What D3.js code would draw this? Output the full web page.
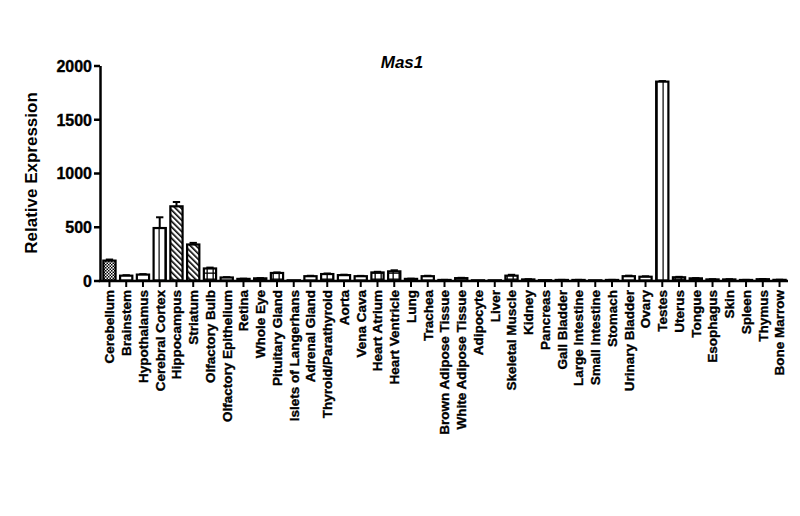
<!DOCTYPE html>
<html>
<head>
<meta charset="utf-8">
<script src="https://cdn.jsdelivr.net/npm/d3@7"></script>
<style>
  body { margin: 0; background: #fff; }
  text { font-family: "Liberation Sans", Arial, sans-serif; font-weight: bold; fill: #000; }
  .tick text { stroke: #000; stroke-width: 0.35px; }
</style>
</head>
<body>
<div id="chart-container"></div>
<script>
const tissues = [
    "Cerebellum", "Brainstem", "Hypothalamus", "Cerebral Cortex", "Hippocampus",
    "Striatum", "Olfactory Bulb", "Olfactory Epithelium", "Retina", "Whole Eye",
    "Pituitary Gland", "Islets of Langerhans", "Adrenal Gland", "Thyroid/Parathyroid",
    "Aorta", "Vena Cava", "Heart Atrium", "Heart Ventricle", "Lung", "Trachea",
    "Brown Adipose Tissue", "White Adipose Tissue", "Adipocyte", "Liver",
    "Skeletal Muscle", "Kidney", "Pancreas", "Gall Bladder", "Large Intestine",
    "Small Intestine", "Stomach", "Urinary Bladder", "Ovary", "Testes", "Uterus",
    "Tongue", "Esophagus", "Skin", "Spleen", "Thymus", "Bone Marrow"
];
const expression = [
    185, 45, 55, 488, 690, 335, 112, 28, 15, 20,
    70, 2, 40, 60, 50, 40, 75, 85, 15, 40,
    5, 22, 2, 2, 45, 10, 3, 5, 5, 2,
    5, 40, 35, 1850, 30, 20, 10, 10, 5, 12, 6
];
const sem = [
    10, 4, 4, 100, 40, 15, 8, 3, 2, 2,
    5, 0, 4, 5, 4, 3, 6, 10, 2, 4,
    1, 3, 0, 0, 8, 2, 0, 1, 1, 0,
    1, 5, 4, 5, 4, 2, 2, 2, 1, 2, 1
];
const fills = [
    "check", "none", "none", "vlines", "diag", "diag", "grid", "none", "none", "none",
    "grid", "none", "none", "grid", "none", "none", "grid", "grid", "none", "none",
    "none", "none", "none", "none", "grid", "none", "none", "none", "none", "none",
    "none", "none", "none", "vlines", "grid", "none", "none", "none", "none", "none", "none"
];
const yTicks = [0, 500, 1000, 1500, 2000];

const svg = d3.select("#chart-container")
    .append("svg")
    .attr("width", 800)
    .attr("height", 516);

// hatch patterns
const defs = svg.append("defs");
const check = defs.append("pattern").attr("id", "check")
    .attr("width", 3).attr("height", 3).attr("patternUnits", "userSpaceOnUse");
check.append("rect").attr("width", 3).attr("height", 3).attr("fill", "#fff");
check.append("rect").attr("width", 1.5).attr("height", 1.5).attr("fill", "#000");
check.append("rect").attr("x", 1.5).attr("y", 1.5).attr("width", 1.5).attr("height", 1.5).attr("fill", "#000");

const diag = defs.append("pattern").attr("id", "diag")
    .attr("width", 4).attr("height", 4).attr("patternUnits", "userSpaceOnUse")
    .attr("patternTransform", "rotate(-45)");
diag.append("rect").attr("width", 4).attr("height", 4).attr("fill", "#fff");
diag.append("rect").attr("width", 1.6).attr("height", 4).attr("fill", "#000");

const grid = defs.append("pattern").attr("id", "grid")
    .attr("width", 6).attr("height", 6).attr("patternUnits", "userSpaceOnUse");
grid.append("rect").attr("width", 6).attr("height", 6).attr("fill", "#fff");
grid.append("rect").attr("x", 2.5).attr("width", 1.3).attr("height", 6).attr("fill", "#000");
grid.append("rect").attr("y", 2.5).attr("width", 6).attr("height", 1.3).attr("fill", "#000");

const vlines = defs.append("pattern").attr("id", "vlines")
    .attr("width", 6).attr("height", 6).attr("patternUnits", "userSpaceOnUse");
vlines.append("rect").attr("width", 6).attr("height", 6).attr("fill", "#fff");
vlines.append("rect").attr("x", 2.5).attr("width", 1.2).attr("height", 6).attr("fill", "#000");

const x = d3.scaleBand().domain(tissues).range([101, 788]).paddingInner(0.27).paddingOuter(0.14);
const y = d3.scaleLinear().domain([0, 2000]).range([280.5, 65.5]);

const data = tissues.map((t, i) => ({ name: t, value: expression[i], err: sem[i], fill: fills[i] }));

// error bars (upper only)
const err = svg.append("g").attr("stroke", "#000").attr("stroke-width", 2);
err.selectAll("line.v")
    .data(data.filter(d => d.err > 0))
    .join("line")
    .attr("x1", d => x(d.name) + x.bandwidth() / 2)
    .attr("x2", d => x(d.name) + x.bandwidth() / 2)
    .attr("y1", d => y(d.value))
    .attr("y2", d => y(d.value + d.err));
err.selectAll("line.h")
    .data(data.filter(d => d.err > 0))
    .join("line")
    .attr("x1", d => x(d.name) + x.bandwidth() * 0.2)
    .attr("x2", d => x(d.name) + x.bandwidth() * 0.8)
    .attr("y1", d => y(d.value + d.err))
    .attr("y2", d => y(d.value + d.err));

// bars
svg.append("g")
    .selectAll("rect")
    .data(data)
    .join("rect")
    .attr("x", d => x(d.name))
    .attr("y", d => y(d.value))
    .attr("width", x.bandwidth())
    .attr("height", d => y(0) - y(d.value))
    .attr("fill", d => d.fill === "none" ? "#fff" : `url(#${d.fill})`)
    .attr("stroke", "#000")
    .attr("stroke-width", 2.2);

// y axis
const yAxis = svg.append("g")
    .attr("transform", "translate(100,0)")
    .call(d3.axisLeft(y).tickValues(yTicks).tickFormat(d3.format("d")).tickSize(6).tickPadding(2).tickSizeOuter(0));
yAxis.select(".domain").attr("stroke-width", 2.5);
yAxis.selectAll(".tick line").attr("stroke-width", 2.5);
yAxis.selectAll(".tick text").style("font-size", "16px").attr("dy", "0.36em");

// x axis
const xAxis = svg.append("g")
    .attr("transform", "translate(0,281)")
    .call(d3.axisBottom(x).tickSize(6).tickSizeOuter(0));
xAxis.select(".domain").attr("stroke-width", 2.5).attr("d", "M98.8,0H788");
xAxis.selectAll(".tick line").attr("stroke-width", 2);
xAxis.selectAll(".tick text")
    .style("font-size", "13.5px")
    .attr("text-anchor", "end")
    .attr("y", 0)
    .attr("dy", 0)
    .attr("transform", "translate(4.8,9) rotate(-90)");

// titles
svg.append("text")
    .attr("x", 402)
    .attr("y", 68)
    .attr("text-anchor", "middle")
    .style("font-size", "17px")
    .style("font-style", "italic")
    .text("Mas1");

svg.append("text")
    .attr("transform", "translate(37,173) rotate(-90)")
    .attr("text-anchor", "middle")
    .style("font-size", "17px")
    .text("Relative Expression");
</script>
</body>
</html>
